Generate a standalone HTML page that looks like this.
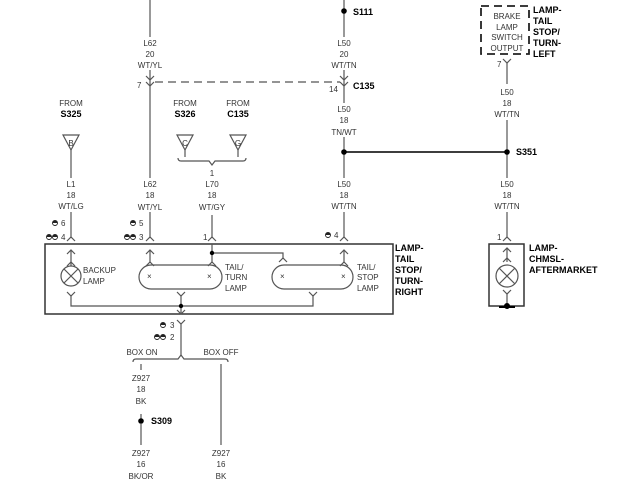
<!DOCTYPE html>
<html><head><style>
body{margin:0;background:#fff}
svg{display:block}
text{font-family:"Liberation Sans",sans-serif;font-size:8px;fill:#333}
.c{text-anchor:middle}
.b{font-weight:bold;font-size:9px;fill:#000}
</style></head><body>
<svg width="640" height="480" viewBox="0 0 640 480" xmlns="http://www.w3.org/2000/svg">
<defs>
<g id="pm"><circle cx="0" cy="0" r="2.5" fill="#fff" stroke="#222" stroke-width="0.9"/><path d="M-2.5,0 A2.5,2.5 0 0 1 2.5,0 Z" fill="#222"/></g>
</defs>
<g stroke="#555" stroke-width="1.2" fill="none">
<line x1="150" y1="0" x2="150" y2="37"/>
<line x1="150" y1="70" x2="150" y2="178"/>
<line x1="150" y1="212" x2="150" y2="237"/>
<path d="M146,76 L150,80 L154,76 M146,82 L150,86 L154,82"/>
<line x1="155" y1="82" x2="340" y2="82" stroke-dasharray="8,5"/>
<line x1="344" y1="0" x2="344" y2="37"/>
<line x1="344" y1="70" x2="344" y2="103"/>
<path d="M340,76 L344,80 L348,76 M340,82 L344,86 L348,82"/>
<line x1="344" y1="137" x2="344" y2="178"/>
<line x1="344" y1="212" x2="344" y2="237"/>
<line x1="344" y1="152" x2="507" y2="152" stroke="#222" stroke-width="1.8"/>
<path d="M63,135 L79,135 L71,150 Z"/>
<line x1="71" y1="150" x2="71" y2="178"/>
<line x1="71" y1="212" x2="71" y2="237"/>
<path d="M177,135 L193,135 L185,150 Z"/>
<path d="M230,135 L246,135 L238,150 Z"/>
<line x1="185" y1="150" x2="185" y2="157"/>
<line x1="238" y1="150" x2="238" y2="157"/>
<path d="M178,158 Q178,161 181,161 L209,161 L212,165 L215,161 L243,161 Q246,161 246,158"/>
<line x1="212" y1="215" x2="212" y2="237"/>
<path d="M67,241 L71,237 L75,241 M146,241 L150,237 L154,241 M208,241 L212,237 L216,241 M340,241 L344,237 L348,241"/>
<rect x="45" y="244" width="348" height="70" stroke="#333" stroke-width="1.5"/>
<path d="M67,254 L71,250 L75,254 M146,254 L150,250 L154,254 M340,254 L344,250 L348,254"/>
<line x1="71" y1="250" x2="71" y2="266"/>
<line x1="150" y1="250" x2="150" y2="262"/>
<line x1="344" y1="250" x2="344" y2="262"/>
<line x1="212" y1="244" x2="212" y2="262"/>
<path d="M67,266 L71,262 L75,266 M146,266 L150,262 L154,266 M208,266 L212,262 L216,266 M340,266 L344,262 L348,266 M279,262 L283,258 L287,262"/>
<path d="M212,253 L283,253 L283,258"/>
<circle cx="71" cy="276" r="10"/>
<path d="M64,269 L78,283 M78,269 L64,283"/>
<rect x="139" y="265" width="83" height="24" rx="12"/>
<rect x="272" y="265" width="81" height="24" rx="12"/>
<path d="M67,292 L71,296 L75,292 M177,292 L181,296 L185,292 M309,292 L313,296 L317,292"/>
<path d="M71,296 L71,306 L313,306 L313,296"/>
<line x1="181" y1="296" x2="181" y2="314"/>
<path d="M177,310 L181,314 L185,310 M177,320 L181,324 L185,320"/>
<line x1="181" y1="324" x2="181" y2="356"/>
<path d="M133,362 Q133,359 136,359 L178,359 L181,355 L184,359 L225,359 Q228,359 228,362"/>
<line x1="141" y1="364" x2="141" y2="370"/>
<line x1="141" y1="414" x2="141" y2="420"/>
<line x1="141" y1="424" x2="141" y2="445"/>
<line x1="221" y1="364" x2="221" y2="445"/>
<rect x="481" y="6" width="48" height="48" stroke="#222" stroke-width="1.8" stroke-dasharray="8,5"/>
<path d="M503,59 L507,63 L511,59"/>
<line x1="507" y1="63" x2="507" y2="84"/>
<line x1="507" y1="120" x2="507" y2="178"/>
<line x1="507" y1="212" x2="507" y2="237"/>
<path d="M503,241 L507,237 L511,241"/>
<rect x="489" y="244" width="35" height="62" stroke="#333" stroke-width="1.5"/>
<path d="M503,252 L507,248 L511,252 M503,262 L507,258 L511,262 M503,290 L507,294 L511,290"/>
<line x1="507" y1="248" x2="507" y2="262"/>
<line x1="507" y1="294" x2="507" y2="306"/>
<circle cx="507" cy="276" r="11"/>
<path d="M499,268 L515,284 M515,268 L499,284"/>
<line x1="499" y1="307" x2="515" y2="307" stroke="#000" stroke-width="2"/>
</g>
<g fill="#000">
<circle cx="344" cy="11" r="2.8"/><circle cx="344" cy="152" r="2.8"/><circle cx="507" cy="152" r="2.8"/>
<circle cx="212" cy="253" r="2.2"/><circle cx="181" cy="306" r="2.2"/><circle cx="141" cy="421" r="2.8"/><circle cx="507" cy="306" r="3"/>
</g>
<use href="#pm" x="55" y="223"/><use href="#pm" x="49" y="237"/><use href="#pm" x="55" y="237"/>
<use href="#pm" x="133" y="223"/><use href="#pm" x="127" y="237"/><use href="#pm" x="133" y="237"/>
<use href="#pm" x="328" y="235"/>
<use href="#pm" x="163" y="325"/><use href="#pm" x="157" y="337"/><use href="#pm" x="163" y="337"/>
<g font-size="7">
<text class="c" x="150" y="46">L62</text><text class="c" x="150" y="57">20</text><text class="c" x="150" y="68">WT/YL</text>
<text class="c" x="344" y="46">L50</text><text class="c" x="344" y="57">20</text><text class="c" x="344" y="68">WT/TN</text>
<text x="137" y="88">7</text><text x="329" y="92">14</text>
<text class="c" x="344" y="112">L50</text><text class="c" x="344" y="123">18</text><text class="c" x="344" y="135">TN/WT</text>
<text class="c" x="71" y="106">FROM</text><text class="c" x="185" y="106">FROM</text><text class="c" x="238" y="106">FROM</text>
<text class="c" x="71" y="146" font-size="6">B</text><text class="c" x="185" y="146" font-size="6">C</text><text class="c" x="238" y="146" font-size="6">G</text>
<text class="c" x="212" y="176">1</text>
<text class="c" x="71" y="187">L1</text><text class="c" x="71" y="198">18</text><text class="c" x="71" y="209">WT/LG</text>
<text class="c" x="150" y="187">L62</text><text class="c" x="150" y="198">18</text><text class="c" x="150" y="210">WT/YL</text>
<text class="c" x="212" y="187">L70</text><text class="c" x="212" y="198">18</text><text class="c" x="212" y="210">WT/GY</text>
<text class="c" x="344" y="187">L50</text><text class="c" x="344" y="198">18</text><text class="c" x="344" y="209">WT/TN</text>
<text x="61" y="226">6</text><text x="61" y="240">4</text>
<text x="139" y="226">5</text><text x="139" y="240">3</text>
<text x="203" y="240">1</text><text x="334" y="238">4</text>
<text x="83" y="273">BACKUP</text><text x="83" y="284">LAMP</text>
<text x="225" y="270">TAIL/</text><text x="225" y="280">TURN</text><text x="225" y="291">LAMP</text>
<text x="357" y="270">TAIL/</text><text x="357" y="280">STOP</text><text x="357" y="291">LAMP</text>
<text x="147" y="279" font-size="9">×</text><text x="207" y="279" font-size="9">×</text>
<text x="280" y="279" font-size="9">×</text><text x="341" y="279" font-size="9">×</text>
<text x="170" y="328">3</text><text x="170" y="340">2</text>
<text class="c" x="142" y="355">BOX ON</text><text class="c" x="221" y="355">BOX OFF</text>
<text class="c" x="141" y="381">Z927</text><text class="c" x="141" y="392">18</text><text class="c" x="141" y="404">BK</text>
<text class="c" x="141" y="456">Z927</text><text class="c" x="141" y="467">16</text><text class="c" x="141" y="479">BK/OR</text>
<text class="c" x="221" y="456">Z927</text><text class="c" x="221" y="467">16</text><text class="c" x="221" y="479">BK</text>
<text class="c" x="507" y="19">BRAKE</text><text class="c" x="507" y="30">LAMP</text><text class="c" x="507" y="40">SWITCH</text><text class="c" x="507" y="51">OUTPUT</text>
<text x="497" y="67">7</text>
<text class="c" x="507" y="95">L50</text><text class="c" x="507" y="106">18</text><text class="c" x="507" y="117">WT/TN</text>
<text class="c" x="507" y="187">L50</text><text class="c" x="507" y="198">18</text><text class="c" x="507" y="209">WT/TN</text>
<text x="497" y="240">1</text>
</g>
<g>
<text class="b" x="353" y="15" font-size="8">S111</text>
<text class="b" x="353" y="89" font-size="8">C135</text>
<text class="b" x="516" y="155" font-size="8">S351</text>
<text class="b c" x="71" y="117" font-size="8">S325</text>
<text class="b c" x="185" y="117" font-size="8">S326</text>
<text class="b c" x="238" y="117" font-size="8">C135</text>
<text class="b" x="151" y="424" font-size="8">S309</text>
<text class="b" x="395" y="251" font-size="8">LAMP-</text><text class="b" x="395" y="262" font-size="8">TAIL</text><text class="b" x="395" y="273" font-size="8">STOP/</text><text class="b" x="395" y="284" font-size="8">TURN-</text><text class="b" x="395" y="295" font-size="8">RIGHT</text>
<text class="b" x="533" y="13" font-size="8">LAMP-</text><text class="b" x="533" y="24" font-size="8">TAIL</text><text class="b" x="533" y="35" font-size="8">STOP/</text><text class="b" x="533" y="46" font-size="8">TURN-</text><text class="b" x="533" y="57" font-size="8">LEFT</text>
<text class="b" x="529" y="251" font-size="8">LAMP-</text><text class="b" x="529" y="262" font-size="8">CHMSL-</text><text class="b" x="529" y="273" font-size="8">AFTERMARKET</text>
</g>
</svg>
</body></html>
